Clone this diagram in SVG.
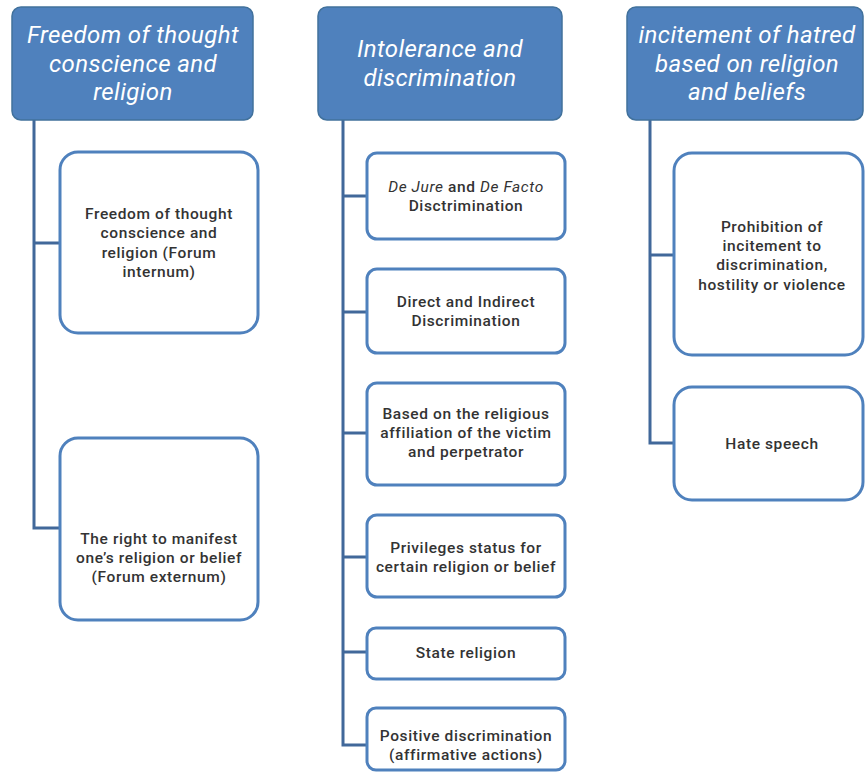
<svg xmlns="http://www.w3.org/2000/svg" width="865" height="778" viewBox="0 0 865 778">
<defs>
<style>
.hdr{fill:#4F81BD;stroke:#41719C;stroke-width:1.5}
.ht{fill:#fff;font-family:Roboto,"Liberation Sans",sans-serif;font-style:italic;font-size:24px;letter-spacing:0.4px;text-anchor:middle}
.box{fill:#fff;stroke:#4F81BD;stroke-width:3}
.bt{fill:#333;font-family:Roboto,"Liberation Sans",sans-serif;font-weight:500;font-size:15.5px;letter-spacing:0.6px;text-anchor:middle}
.it{font-style:italic;font-weight:400}
.con{fill:none;stroke:#41689A;stroke-width:3}
</style>
</defs>
<rect width="865" height="778" fill="#fff"/>
<g id="connectors">
<path class="con" d="M34 120 V528 H60 M34 243 H60"/>
<path class="con" d="M343 120 V745 H368 M343 196 H368 M343 312 H368 M343 433 H368 M343 557 H368 M343 652 H368"/>
<path class="con" d="M650 120 V443 H675 M650 255 H675"/>
</g>
<g id="h1"><rect class="hdr" x="12" y="7" width="241" height="113" rx="9"/>
<text class="ht" x="133" y="43">Freedom of thought</text><text class="ht" x="133" y="72">conscience and</text><text class="ht" x="133" y="100">religion</text></g>
<g id="h2"><rect class="hdr" x="318" y="7" width="244" height="113" rx="9"/>
<text class="ht" x="440" y="57">Intolerance and</text><text class="ht" x="440" y="86">discrimination</text></g>
<g id="h3"><rect class="hdr" x="627" y="7" width="236" height="113" rx="9"/>
<text class="ht" x="747" y="43">incitement of hatred</text><text class="ht" x="747" y="72">based on religion</text><text class="ht" x="747" y="100">and beliefs</text></g>
<g id="l1"><rect class="box" x="60" y="152" width="198" height="181" rx="18"/>
<text class="bt" x="159" y="219">Freedom of thought</text><text class="bt" x="159" y="238">conscience and</text><text class="bt" x="159" y="258">religion (Forum</text><text class="bt" x="159" y="277">internum)</text></g>
<g id="l2"><rect class="box" x="60" y="438" width="198" height="182" rx="18"/>
<text class="bt" x="159" y="544">The right to manifest</text><text class="bt" x="159" y="563">one’s religion or belief</text><text class="bt" x="159" y="582">(Forum externum)</text></g>
<g id="m1"><rect class="box" x="367" y="153" width="198" height="86" rx="10"/>
<text class="bt" x="466" y="192"><tspan class="it">De Jure</tspan> and <tspan class="it">De Facto</tspan></text><text class="bt" x="466" y="211">Disctrimination</text></g>
<g id="m2"><rect class="box" x="367" y="269" width="198" height="84" rx="10"/>
<text class="bt" x="466" y="307">Direct and Indirect</text><text class="bt" x="466" y="326">Discrimination</text></g>
<g id="m3"><rect class="box" x="367" y="383" width="198" height="102" rx="10"/>
<text class="bt" x="466" y="419">Based on the religious</text><text class="bt" x="466" y="438">affiliation of the victim</text><text class="bt" x="466" y="457">and perpetrator</text></g>
<g id="m4"><rect class="box" x="367" y="515" width="198" height="82" rx="10"/>
<text class="bt" x="466" y="553">Privileges status for</text><text class="bt" x="466" y="572">certain religion or belief</text></g>
<g id="m5"><rect class="box" x="367" y="628" width="198" height="51" rx="9"/>
<text class="bt" x="466" y="658">State religion</text></g>
<g id="m6"><rect class="box" x="367" y="708" width="198" height="62" rx="9"/>
<text class="bt" x="466" y="741">Positive discrimination</text><text class="bt" x="466" y="760">(affirmative actions)</text></g>
<g id="r1"><rect class="box" x="674" y="153" width="189" height="202" rx="18"/>
<text class="bt" x="772" y="232">Prohibition of</text><text class="bt" x="772" y="251">incitement to</text><text class="bt" x="772" y="270">discrimination,</text><text class="bt" x="772" y="290">hostility or violence</text></g>
<g id="r2"><rect class="box" x="674" y="387" width="189" height="113" rx="18"/>
<text class="bt" x="772" y="449">Hate speech</text></g>
</svg>
